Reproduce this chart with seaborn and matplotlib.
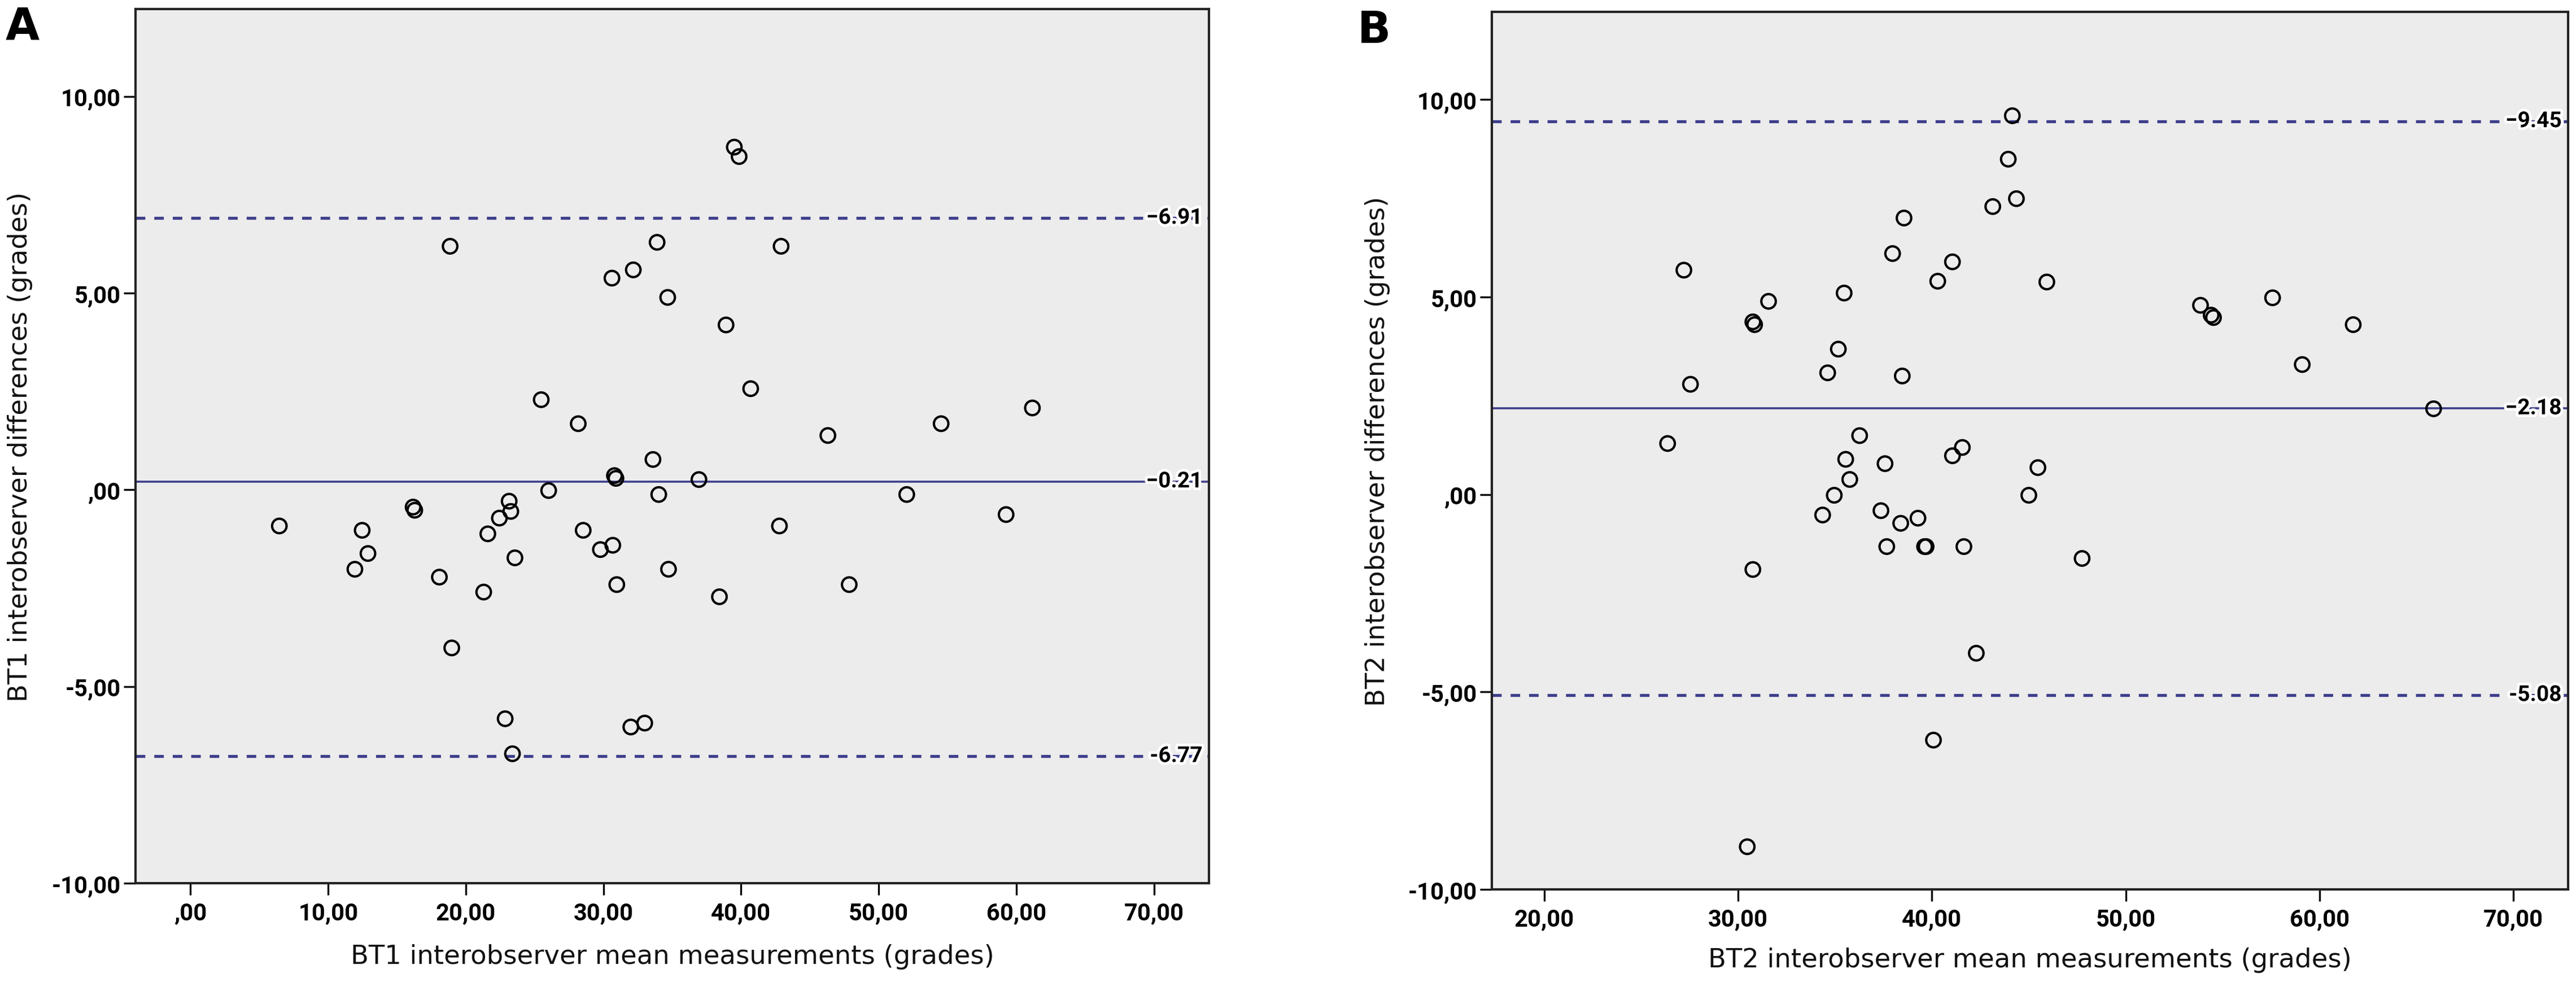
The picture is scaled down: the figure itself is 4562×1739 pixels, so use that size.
import numpy as np
import pandas as pd
import matplotlib
matplotlib.use("Agg")
import matplotlib.pyplot as plt
import seaborn as sns
from matplotlib.ticker import FixedLocator, FuncFormatter
from matplotlib.transforms import blended_transform_factory
import matplotlib.patheffects as pe

# ---------------- data ----------------
bt1_mean = [6.45, 12.47, 12.89, 11.94, 16.17, 16.29, 18.08, 18.86, 18.98, 21.30,
            21.60, 22.44, 23.15, 23.27, 23.57, 22.86, 23.39, 25.48, 26.02, 28.17,
            28.53, 29.78, 30.62, 30.68, 30.80, 30.91, 30.97, 32.17, 31.99, 33.00,
            33.60, 33.90, 34.02, 34.67, 34.73, 36.94, 38.43, 38.91, 39.51, 39.86,
            40.70, 42.79, 42.91, 46.31, 47.86, 52.04, 54.54, 59.26, 61.17]
bt1_diff = [-0.92, -1.03, -1.62, -2.02, -0.44, -0.52, -2.22, 6.19, -4.02, -2.60,
            -1.12, -0.72, -0.29, -0.55, -1.73, -5.82, -6.71, 2.29, -0.02, 1.68,
            -1.03, -1.52, 5.38, -1.41, 0.36, 0.29, -2.41, 5.59, -6.03, -5.93,
            0.77, 6.29, -0.12, 4.89, -2.02, 0.26, -2.72, 4.19, 8.71, 8.47,
            2.57, -0.92, 6.19, 1.38, -2.41, -0.12, 1.68, -0.63, 2.08]

bt2_mean = [26.36, 27.20, 27.54, 30.76, 30.85, 31.57, 30.76, 30.47, 34.36, 34.62,
            34.96, 35.17, 35.47, 35.55, 35.76, 36.27, 37.37, 37.58, 37.67, 37.97,
            38.39, 38.47, 38.56, 39.28, 39.62, 39.70, 40.08, 40.30, 41.06, 41.06,
            41.57, 41.65, 42.29, 43.14, 43.94, 44.15, 44.36, 45.00, 45.47, 45.93,
            47.75, 53.86, 54.41, 54.53, 57.58, 59.11, 61.74, 65.89]
bt2_diff = [1.29, 5.68, 2.79, 4.37, 4.30, 4.89, -1.90, -8.92, -0.52, 3.08,
            -0.02, 3.68, 5.10, 0.89, 0.38, 1.49, -0.41, 0.78, -1.32, 6.10,
            -0.73, 3.00, 7.00, -0.60, -1.32, -1.32, -6.22, 5.40, 0.98, 5.89,
            1.19, -1.32, -4.02, 7.29, 8.49, 9.59, 7.49, -0.02, 0.68, 5.38,
            -1.62, 4.79, 4.54, 4.48, 4.98, 3.29, 4.30, 2.17]

bt1_limits = [6.91, 0.21, -6.77]      # upper LoA, mean, lower LoA
bt2_limits = [9.45, 2.18, -5.08]
limit_labels_bt1 = ["6.91", "0.21", "-6.77"]
limit_labels_bt2 = ["9.45", "2.18", "-5.08"]

bt1_xticks = [0, 10, 20, 30, 40, 50, 60, 70]
bt2_xticks = [20, 30, 40, 50, 60, 70]
y_ticks = [-10, -5, 0, 5, 10]

panel_letters = ["A", "B"]
x_titles = ["BT1 interobserver mean measurements (grades)",
            "BT2 interobserver mean measurements (grades)"]
y_titles = ["BT1 interobserver differences (grades)",
            "BT2 interobserver differences (grades)"]

# ---------------- style ----------------
sns.set_theme(style="white")
plt.rcParams['font.family'] = ['DejaVu Sans']

W, H = 4562, 1740
fig = plt.figure(figsize=(W / 100, H / 100), dpi=100)

def px_axes(left, right, top, bottom):
    return [left / W, 1 - bottom / H, (right - left) / W, (bottom - top) / H]

axA = fig.add_axes(px_axes(240, 2141, 17, 1565))
axB = fig.add_axes(px_axes(2642, 4548, 22, 1576))

def spss_fmt(v, pos):
    s = f"{v:.2f}".replace('.', ',')
    if s.startswith('0,'):
        s = s[1:]
    elif s.startswith('-0,'):
        s = '-' + s[2:]
    return s

line_color = '#3e3e8c'
panels = [
    (axA, bt1_mean, bt1_diff, bt1_limits, limit_labels_bt1, bt1_xticks, (-4.0, 74.0)),
    (axB, bt2_mean, bt2_diff, bt2_limits, limit_labels_bt2, bt2_xticks, (17.29, 72.83)),
]

for i, (ax, xm, yd, lims, lim_lbls, xt, xlim) in enumerate(panels):
    ax.set_facecolor('#ECECEC')
    df = pd.DataFrame({'mean': xm, 'diff': yd})
    tr = blended_transform_factory(ax.transAxes, ax.transData)
    for j, (v, lbl) in enumerate(zip(lims, lim_lbls)):
        if j == 1:
            ax.axhline(v, color=line_color, lw=2.6, zorder=1)
        else:
            ax.axhline(v, color=line_color, lw=3.8, ls=(0, (3.2, 3.0)), zorder=1)
        ax.text(0.994, v, "\u2012" + lbl if not lbl.startswith('-') else lbl,
                transform=tr, ha='right', va='center',
                fontsize=28, fontweight='bold', family=['Roboto', 'DejaVu Sans'],
                color='black', zorder=4,
                path_effects=[pe.withStroke(linewidth=7, foreground='white')])
    sns.scatterplot(data=df, x='mean', y='diff', ax=ax, s=340, marker='o',
                    facecolors='none', edgecolor='black', linewidth=3.0,
                    zorder=3, legend=False)
    ax.set_xlim(*xlim)
    ax.set_ylim(-10, 12.22)
    ax.xaxis.set_major_locator(FixedLocator(xt))
    ax.yaxis.set_major_locator(FixedLocator(y_ticks))
    ax.xaxis.set_major_formatter(FuncFormatter(spss_fmt))
    ax.yaxis.set_major_formatter(FuncFormatter(spss_fmt))
    ax.tick_params(axis='x', direction='out', length=15, width=2.4, pad=8,
                   colors='black', labelsize=30, bottom=True)
    ax.tick_params(axis='y', direction='out', length=15, width=2.4, pad=4,
                   colors='black', labelsize=30, left=True)
    for lab in ax.get_xticklabels() + ax.get_yticklabels():
        lab.set_fontweight('bold')
        lab.set_family(['Roboto', 'DejaVu Sans'])
    for sp in ax.spines.values():
        sp.set_visible(True)
        sp.set_color('#222222')
        sp.set_linewidth(3.0)
    ax.set_xlabel(x_titles[i], fontsize=33.5, color='#111111')
    ax.set_ylabel(y_titles[i], fontsize=33.5, color='#111111')
    ax.grid(False)

axA.xaxis.set_label_coords(0.5, -0.069)
axB.xaxis.set_label_coords(0.5, -0.0656)
axA.yaxis.set_label_coords(-0.0957, 0.5)
axB.yaxis.set_label_coords(-0.0944, 0.5)

fig.text(10 / W, 1 - 10 / H, panel_letters[0], ha='left', va='top',
         fontsize=56, fontweight='bold', color='black')
fig.text(2404 / W, 1 - 16 / H, panel_letters[1], ha='left', va='top',
         fontsize=56, fontweight='bold', color='black')

fig.savefig('out.png', dpi=100, facecolor='white')
